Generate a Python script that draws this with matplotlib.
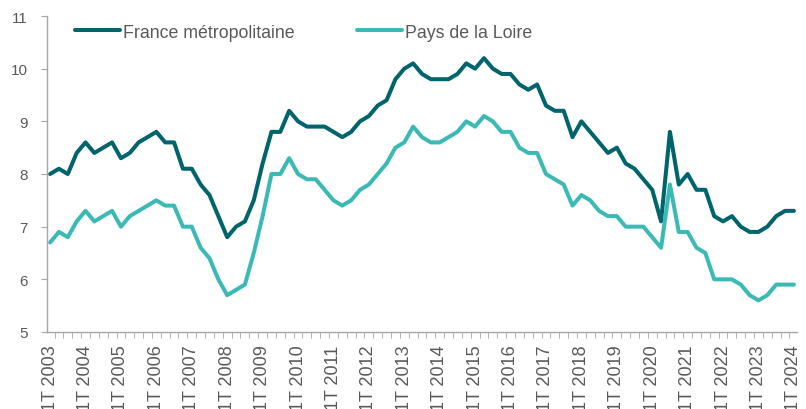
import matplotlib.pyplot as plt
from matplotlib.ticker import FixedLocator

plt.rcParams['font.family'] = ['Liberation Sans', 'DejaVu Sans']

years = list(range(2003, 2025))
tick_labels = ['1T %d' % y for y in years]

france = [8.0, 8.1, 8.0, 8.4,
          8.6, 8.4, 8.5, 8.6,
          8.3, 8.4, 8.6, 8.7,
          8.8, 8.6, 8.6, 8.1,
          8.1, 7.8, 7.6, 7.2,
          6.8, 7.0, 7.1, 7.5,
          8.2, 8.8, 8.8, 9.2,
          9.0, 8.9, 8.9, 8.9,
          8.8, 8.7, 8.8, 9.0,
          9.1, 9.3, 9.4, 9.8,
          10.0, 10.1, 9.9, 9.8,
          9.8, 9.8, 9.9, 10.1,
          10.0, 10.2, 10.0, 9.9,
          9.9, 9.7, 9.6, 9.7,
          9.3, 9.2, 9.2, 8.7,
          9.0, 8.8, 8.6, 8.4,
          8.5, 8.2, 8.1, 7.9,
          7.7, 7.1, 8.8, 7.8,
          8.0, 7.7, 7.7, 7.2,
          7.1, 7.2, 7.0, 6.9,
          6.9, 7.0, 7.2, 7.3,
          7.3]

loire = [6.7, 6.9, 6.8, 7.1,
         7.3, 7.1, 7.2, 7.3,
         7.0, 7.2, 7.3, 7.4,
         7.5, 7.4, 7.4, 7.0,
         7.0, 6.6, 6.4, 6.0,
         5.7, 5.8, 5.9, 6.5,
         7.2, 8.0, 8.0, 8.3,
         8.0, 7.9, 7.9, 7.7,
         7.5, 7.4, 7.5, 7.7,
         7.8, 8.0, 8.2, 8.5,
         8.6, 8.9, 8.7, 8.6,
         8.6, 8.7, 8.8, 9.0,
         8.9, 9.1, 9.0, 8.8,
         8.8, 8.5, 8.4, 8.4,
         8.0, 7.9, 7.8, 7.4,
         7.6, 7.5, 7.3, 7.2,
         7.2, 7.0, 7.0, 7.0,
         6.8, 6.6, 7.8, 6.9,
         6.9, 6.6, 6.5, 6.0,
         6.0, 6.0, 5.9, 5.7,
         5.6, 5.7, 5.9, 5.9,
         5.9]

gray = '#595959'
x = list(range(len(france)))

fig = plt.figure(figsize=(8.06, 4.10), dpi=100)
ax = fig.add_axes([47 / 806, 1 - 333 / 410, 750 / 806, 316 / 410])

ax.plot(x, france, color='#00646C', linewidth=2.9, label='France métropolitaine',
        solid_capstyle='round', solid_joinstyle='round')
ax.plot(x, loire, color='#3BBAB5', linewidth=2.9, label='Pays de la Loire',
        solid_capstyle='round', solid_joinstyle='round')

ax.set_xlim(-0.35, len(x) - 0.65)
ax.set_ylim(5, 11)
ax.set_yticks(range(5, 12))

ax.set_xticks([i * 4 for i in range(len(years))])
ax.set_xticklabels(tick_labels, rotation=90)
ax.xaxis.set_minor_locator(FixedLocator([i - 0.5 for i in range(len(x) + 1)]))
ax.tick_params(axis='x', which='major', length=0, pad=9, labelsize=13, labelcolor=gray)
ax.tick_params(axis='x', which='minor', length=4, color='#A6A6A6', direction='out')
ax.tick_params(axis='y', length=4, color='#A6A6A6', labelsize=11, labelcolor=gray, pad=10)

for s in ['top', 'right']:
    ax.spines[s].set_visible(False)
for s in ['left', 'bottom']:
    ax.spines[s].set_color('#A6A6A6')
    ax.spines[s].set_linewidth(1)

leg = ax.legend(loc='center left', bbox_to_anchor=(0.037, 0.949), ncol=2, frameon=False,
                fontsize=12.8, handlelength=2.55, handletextpad=0.15, columnspacing=3.5,
                borderpad=0, borderaxespad=0)
for t in leg.get_texts():
    t.set_color(gray)

fig.savefig('out.png', dpi=100)
